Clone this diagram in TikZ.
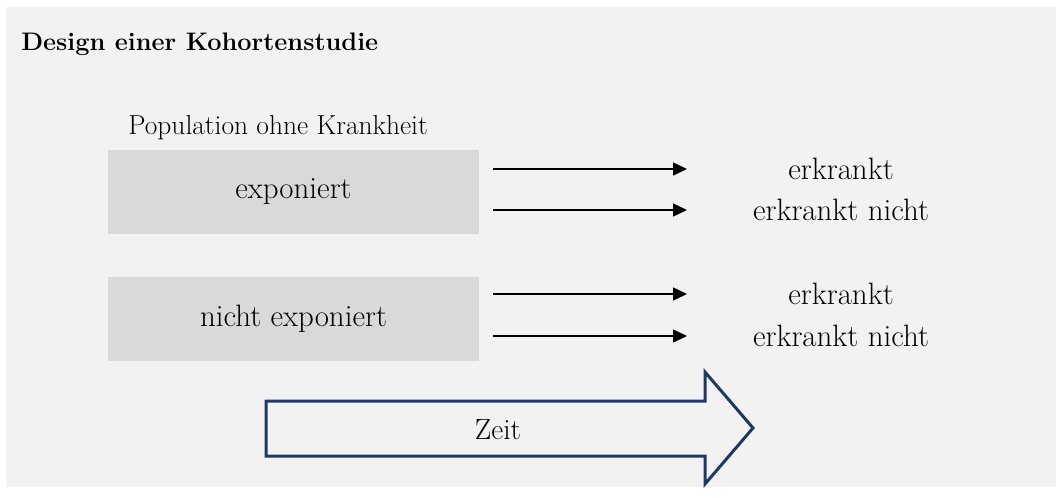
\documentclass[tikz,border=0pt]{standalone}
\usetikzlibrary{arrows.meta}

\definecolor{bggray}{HTML}{F2F2F2}
\definecolor{boxgray}{HTML}{D9D9D9}
\definecolor{navy}{HTML}{1F3864}

\tikzset{
  txt/.style={font=\fontsize{#1}{28}\selectfont, inner sep=0pt},
  txt/.default=23.2,
  groupbox/.style={fill=boxgray, minimum width=278.25pt, minimum height=63pt, txt},
  follow/.style={-{Triangle[length=10.5pt, width=9.75pt]}, line width=1.1pt}
}

\begin{document}
\begin{tikzpicture}[x=0.75pt, y=-0.75pt]
  % page and background
  \useasboundingbox (0,0) rectangle (1056,497);
  \fill[bggray] (6,7) rectangle (1056,487);

  % title
  \node[anchor=base west, inner sep=0pt, font=\fontsize{19}{23}\selectfont\bfseries] (title) at (21,50) {Design einer Kohortenstudie};

  % groups
  \node[txt=20.6, anchor=base west] (pop) at (128,134) {Population ohne Krankheit};
  \node[groupbox] (expo) at (293.5,192) {exponiert};
  \node[groupbox] (nexpo) at (293.5,319) {nicht exponiert};

  % outcomes
  \node[txt] (ek1) at (841,169) {erkrankt};
  \node[txt] (nk1) at (841,210) {erkrankt nicht};
  \node[txt] (ek2) at (841,294) {erkrankt};
  \node[txt] (nk2) at (841,336) {erkrankt nicht};

  \coordinate (s1) at (493,169); \coordinate (t1) at (687,169);
  \coordinate (s2) at (493,210); \coordinate (t2) at (687,210);
  \coordinate (s3) at (493,294); \coordinate (t3) at (687,294);
  \coordinate (s4) at (493,336); \coordinate (t4) at (687,336);
  \draw[follow] (s1) -- (t1);
  \draw[follow] (s2) -- (t2);
  \draw[follow] (s3) -- (t3);
  \draw[follow] (s4) -- (t4);

  % time arrow
  \draw[navy, line width=2.25pt, line join=miter]
    (266,401) -- (705,401) -- (705,372) -- (753,428) -- (705,484) -- (705,456) -- (266,456) -- cycle;
  \node[txt=22] (zeit) at (498,430) {Zeit};
\end{tikzpicture}
\end{document}
